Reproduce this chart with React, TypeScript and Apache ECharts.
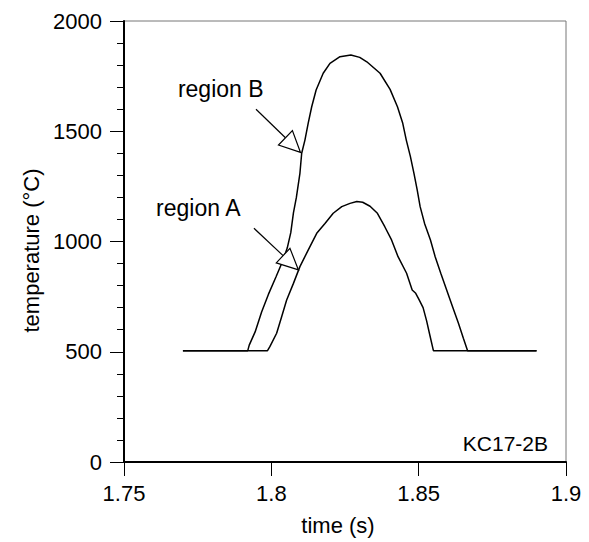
import React, { useEffect, useRef } from "react";
import * as echarts from "echarts";

// Region B (outer curve)
const timeB = [1.77, 1.792, 1.7925, 1.7945, 1.7967, 1.799, 1.8016, 1.8035, 1.8054, 1.8066, 1.8075, 1.8085, 1.8097, 1.8103, 1.8114, 1.8125, 1.8137, 1.8152, 1.8176, 1.8199, 1.8233, 1.827, 1.83, 1.8324, 1.8369, 1.8403, 1.8428, 1.8446, 1.8458, 1.8472, 1.8484, 1.8495, 1.8505, 1.852, 1.854, 1.8556, 1.8575, 1.8595, 1.8615, 1.8635, 1.8652, 1.8666, 1.89];
const tempB = [505, 505, 530, 590, 680, 760, 840, 900, 970, 1040, 1130, 1200, 1309, 1400, 1460, 1536, 1611, 1687, 1763, 1808, 1838, 1846, 1835, 1815, 1763, 1690, 1611, 1536, 1460, 1385, 1309, 1234, 1158, 1082, 1007, 931, 856, 780, 704, 629, 560, 505, 505];

// Region A (inner curve)
const timeA = [1.77, 1.7987, 1.7995, 1.8018, 1.8035, 1.8052, 1.8075, 1.8097, 1.8125, 1.8154, 1.8182, 1.821, 1.8239, 1.8267, 1.829, 1.831, 1.8335, 1.836, 1.8385, 1.8408, 1.843, 1.8459, 1.8478, 1.849, 1.85, 1.8515, 1.8527, 1.8538, 1.855, 1.89];
const tempA = [505, 505, 523, 584, 659, 735, 810, 886, 961, 1037, 1082, 1128, 1158, 1173, 1181, 1178, 1160, 1128, 1067, 1007, 931, 856, 780, 765, 740, 700, 640, 575, 505, 505];

// Annotations (data coordinates)
const labelTexts = ["region B", "region A"];
const labelAnchors = [[1.7683, 1745], [1.7609, 1206]];
const arrowFrom = [[1.7948, 1600], [1.7941, 1060]];
const arrowTo = [[1.8099, 1404], [1.8092, 871]];
const sampleTag = "KC17-2B";

const FONT = "'Liberation Sans', Arial, Helvetica, sans-serif";

export default function App() {
  const ref = useRef<HTMLDivElement>(null);
  useEffect(() => {
    const chart = echarts.init(ref.current!, null, { renderer: "svg" });
    const toPairs = (xs: number[], ys: number[]) => xs.map((x, i) => [x, ys[i]]);
    chart.setOption({
      animation: false,
      backgroundColor: "#fff",
      textStyle: { fontFamily: FONT },
      grid: { left: 124, right: 23, top: 21, bottom: 80, show: true, borderColor: "#777", borderWidth: 1 },
      xAxis: {
        type: "value",
        min: 1.75,
        max: 1.9,
        interval: 0.05,
        axisLine: { show: true, onZero: false, lineStyle: { color: "#000", width: 2 } },
        axisTick: { show: true, length: 14, lineStyle: { color: "#000", width: 1 } },
        axisLabel: {
          show: true,
          showMinLabel: true,
          showMaxLabel: true,
          margin: 20,
          fontSize: 22,
          color: "#000",
          fontFamily: FONT,
          formatter: (v: number) => String(parseFloat(v.toFixed(2))),
        },
        splitLine: { show: false },
        name: "time (s)",
        nameLocation: "middle",
        nameGap: 52,
        nameTextStyle: { fontSize: 22, color: "#000", fontFamily: FONT, padding: [0, 14, 0, 0] },
      },
      yAxis: {
        type: "value",
        min: 0,
        max: 2000,
        interval: 500,
        axisLine: { show: true, onZero: false, lineStyle: { color: "#000", width: 2 } },
        axisTick: { show: true, length: 14, lineStyle: { color: "#000", width: 1 } },
        minorTick: { show: true, splitNumber: 5, length: 7, lineStyle: { color: "#000", width: 1 } },
        axisLabel: {
          show: true,
          margin: 22,
          fontSize: 22,
          color: "#000",
          fontFamily: FONT,
          formatter: (v: number) => String(v),
        },
        splitLine: { show: false },
        minorSplitLine: { show: false },
        name: "temperature (°C)",
        nameLocation: "middle",
        nameGap: 79,
        nameTextStyle: { fontSize: 22, color: "#000", fontFamily: FONT, padding: [0, 18, 0, 0] },
      },
      series: [
        {
          name: "region B",
          type: "line",
          data: toPairs(timeB, tempB),
          showSymbol: false,
          lineStyle: { color: "#000", width: 1.5 },
          z: 3,
        },
        {
          name: "region A",
          type: "line",
          data: toPairs(timeA, tempA),
          showSymbol: false,
          lineStyle: { color: "#000", width: 1.5 },
          z: 3,
        },
      ],
    });

    const px = (p: number[]) => chart.convertToPixel({ gridIndex: 0 }, p) as number[];
    const graphics: any[] = [];
    labelTexts.forEach((t, i) => {
      const p = px(labelAnchors[i]);
      graphics.push({
        type: "text",
        x: p[0],
        y: p[1],
        z: 10,
        style: { text: t, fontSize: 23, fill: "#000", fontFamily: FONT, textAlign: "left", textVerticalAlign: "top" },
      });
    });
    arrowFrom.forEach((f, i) => {
      const s = px(f);
      const t = px(arrowTo[i]);
      const dx = t[0] - s[0];
      const dy = t[1] - s[1];
      const len = Math.sqrt(dx * dx + dy * dy);
      const ux = dx / len;
      const uy = dy / len;
      const L = 21;
      const W = 10;
      const bx = t[0] - ux * L;
      const by = t[1] - uy * L;
      graphics.push({
        type: "line",
        z: 10,
        shape: { x1: s[0], y1: s[1], x2: bx, y2: by },
        style: { stroke: "#000", lineWidth: 1.2 },
      });
      graphics.push({
        type: "polygon",
        z: 10,
        shape: {
          points: [
            [t[0], t[1]],
            [bx - uy * W, by + ux * W],
            [bx + uy * W, by - ux * W],
          ],
        },
        style: { fill: "#fff", stroke: "#000", lineWidth: 1.2 },
      });
    });
    graphics.push({
      type: "text",
      right: 41,
      top: 433,
      z: 10,
      style: { text: sampleTag, fontSize: 21, fill: "#000", fontFamily: FONT },
    });
    chart.setOption({ graphic: graphics });

    return () => chart.dispose();
  }, []);
  return <div ref={ref} style={{ position: "fixed", left: 0, top: 0, width: 589, height: 542 }} />;
}
